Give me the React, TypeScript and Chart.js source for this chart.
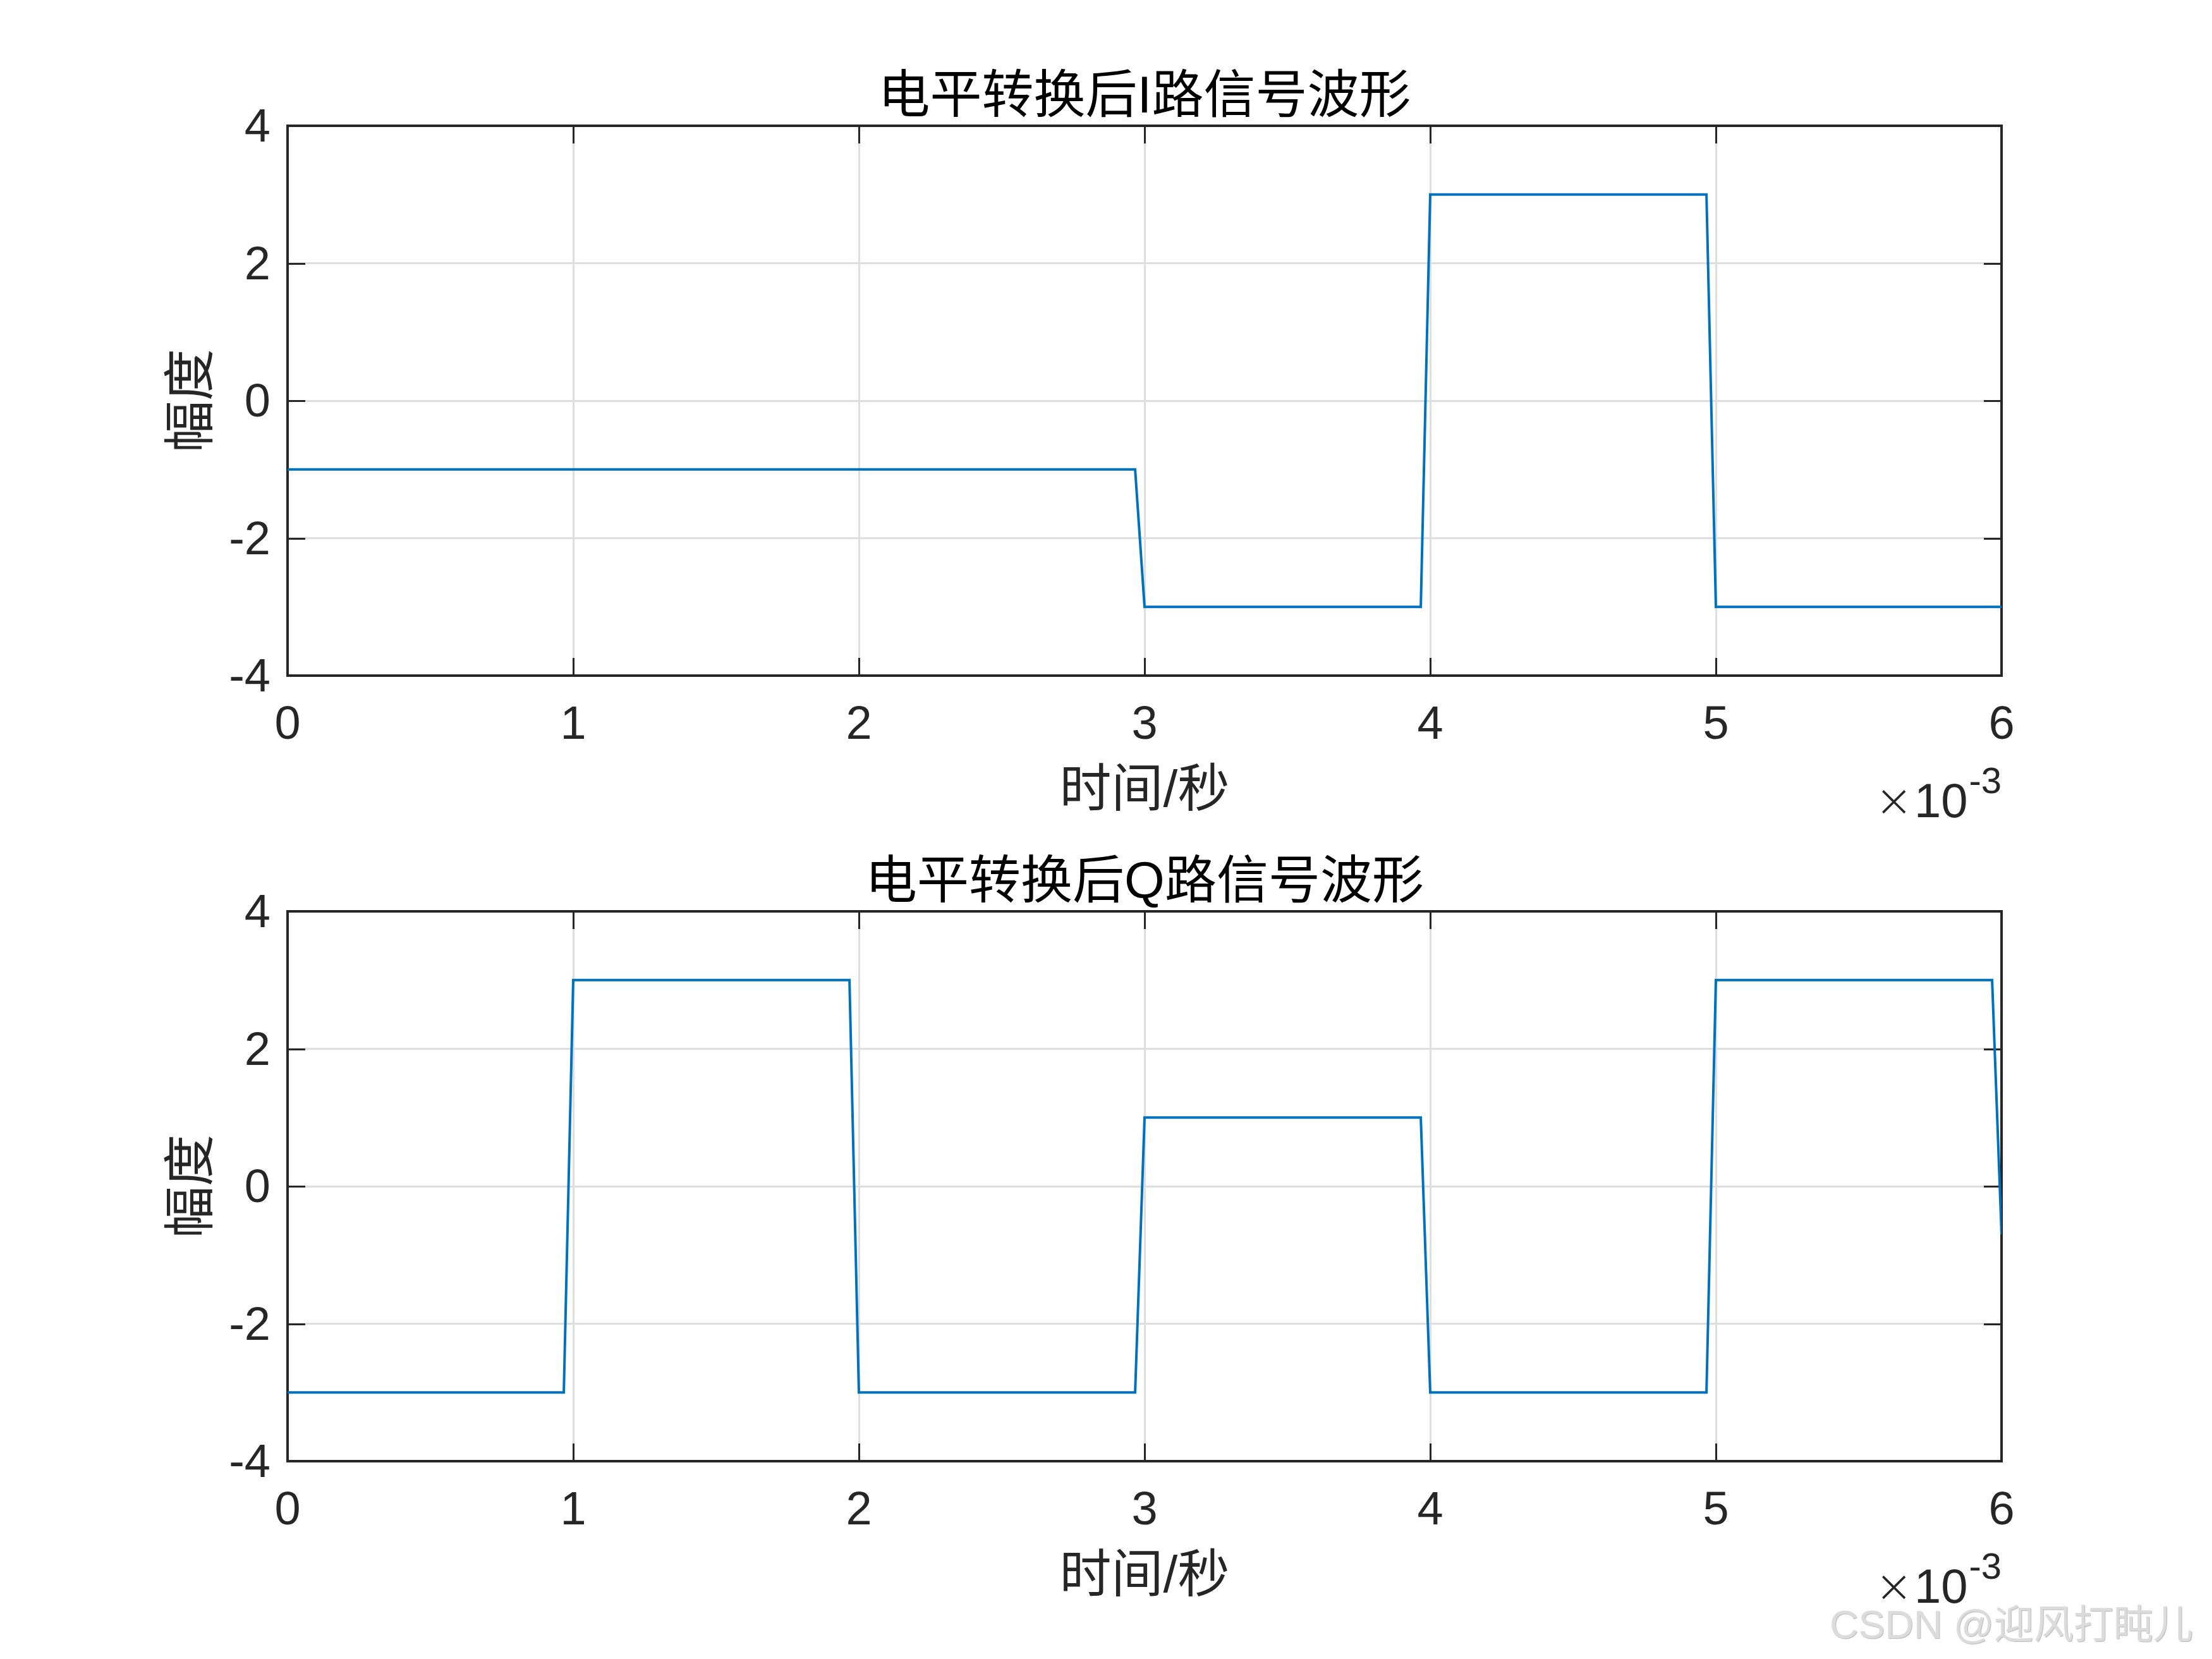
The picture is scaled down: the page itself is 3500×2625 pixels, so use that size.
import React, { useEffect, useRef } from "react";
import { Chart, registerables } from "chart.js";

Chart.register(...registerables);

// ---- data (time in units of 1e-3 s) ----
const iTimes = [0, 2.967, 3.0, 3.967, 4.0, 4.967, 5.0, 6.0];
const iValues = [-1, -1, -3, -3, 3, 3, -3, -3];

const qTimes = [0, 0.967, 1.0, 1.967, 2.0, 2.967, 3.0, 3.967, 4.0, 4.967, 5.0, 5.967, 6.0];
const qValues = [-3, -3, 3, 3, -3, -3, 1, 1, -3, -3, 3, 3, -0.7];

const xTickValues = [0, 1, 2, 3, 4, 5, 6];
const yTickValues = [-4, -2, 0, 2, 4];

const titleI = "电平转换后I路信号波形";
const titleQ = "电平转换后Q路信号波形";
const xLabel = "时间/秒";
const yLabel = "幅度";
const expTimes = "×";
const expBase = "10";
const expPower = "-3";
const watermark = "CSDN @迎风打盹儿";

// ---- styles ----
const LINE = "#0072BD";
const AXIS = "#262626";
const GRID = "#dedede";
const FONT = '"Liberation Sans", Arial, "Noto Sans CJK SC", sans-serif';
const CJK = '"Liberation Sans", "Noto Sans CJK SC", sans-serif';

const W = 3500;

function makeDecor(title: string) {
  return {
    id: "decor",
    beforeDatasetsDraw(chart: any) {
      const { ctx, chartArea: a, scales } = chart;
      ctx.save();
      ctx.strokeStyle = AXIS;
      ctx.lineWidth = 3;
      const TL = 28;
      for (const v of xTickValues) {
        const px = Math.round(scales.x.getPixelForValue(v)) + 0.5;
        ctx.beginPath();
        ctx.moveTo(px, a.bottom);
        ctx.lineTo(px, a.bottom - TL);
        ctx.moveTo(px, a.top);
        ctx.lineTo(px, a.top + TL);
        ctx.stroke();
      }
      for (const v of yTickValues) {
        const py = Math.round(scales.y.getPixelForValue(v)) + 0.5;
        ctx.beginPath();
        ctx.moveTo(a.left, py);
        ctx.lineTo(a.left + TL, py);
        ctx.moveTo(a.right, py);
        ctx.lineTo(a.right - TL, py);
        ctx.stroke();
      }
      ctx.lineWidth = 4;
      ctx.strokeRect(a.left, a.top, a.right - a.left, a.bottom - a.top);
      ctx.restore();
    },
    afterDraw(chart: any) {
      const { ctx, chartArea: a } = chart;
      const cx = (a.left + a.right) / 2;
      const cy = (a.top + a.bottom) / 2;
      ctx.save();
      ctx.fillStyle = "#000000";
      ctx.textAlign = "center";
      ctx.textBaseline = "middle";
      ctx.font = `82px ${CJK}`;
      ctx.fillText(title, cx, a.top - 44);
      ctx.fillStyle = AXIS;
      ctx.font = `82px ${CJK}`;
      ctx.fillText(xLabel, cx, a.bottom + 184);
      ctx.save();
      ctx.translate(a.left - 149, cy);
      ctx.rotate(-Math.PI / 2);
      ctx.fillText(yLabel, 0, 0);
      ctx.restore();
      // exponent label
      ctx.textAlign = "right";
      ctx.textBaseline = "alphabetic";
      ctx.font = `58px ${FONT}`;
      const pw = ctx.measureText(expPower).width;
      ctx.fillText(expPower, a.right, a.bottom + 186);
      ctx.font = `76px ${FONT}`;
      const bx = a.right - pw - 2;
      ctx.fillText(expBase, bx, a.bottom + 224);
      const bw = ctx.measureText(expBase).width;
      ctx.font = `300 72px "DejaVu Sans", ${FONT}`;
      ctx.fillText(expTimes, bx - bw - 2, a.bottom + 222);
      ctx.restore();
    },
  };
}

function PlotPanel(props: {
  times: number[];
  values: number[];
  title: string;
  top: number;
  height: number;
  areaTop: number;
  areaBottom: number;
}) {
  const ref = useRef<HTMLCanvasElement | null>(null);
  useEffect(() => {
    if (!ref.current) return;
    const data = props.times.map((t, i) => ({ x: t, y: props.values[i] }));
    const chart = new Chart(ref.current, {
      type: "line",
      data: {
        datasets: [
          {
            data,
            borderColor: LINE,
            borderWidth: 4,
            pointRadius: 0,
            fill: false,
            tension: 0,
          },
        ],
      },
      options: {
        animation: false,
        responsive: false,
        devicePixelRatio: 1,
        layout: {
          padding: { left: 0, right: W - 3167, top: props.areaTop, bottom: 0 },
        },
        plugins: {
          legend: { display: false },
          title: { display: false },
          tooltip: { enabled: false },
        },
        scales: {
          x: {
            type: "linear",
            min: 0,
            max: 6,
            afterFit: (s: any) => {
              s.height = props.height - props.areaBottom;
            },
            afterBuildTicks: (s: any) => {
              s.ticks = xTickValues.map((v) => ({ value: v }));
            },
            ticks: {
              padding: 35,
              color: AXIS,
              font: { family: FONT, size: 74 },
              maxRotation: 0,
              callback: (v: any) => String(v),
            },
            grid: { color: GRID, lineWidth: 3, drawTicks: false },
            border: { display: false },
          },
          y: {
            type: "linear",
            min: -4,
            max: 4,
            afterFit: (s: any) => {
              s.width = 455;
            },
            afterBuildTicks: (s: any) => {
              s.ticks = yTickValues.map((v) => ({ value: v }));
            },
            ticks: {
              padding: 27,
              labelOffset: 5,
              color: AXIS,
              font: { family: FONT, size: 74 },
              callback: (v: any) => String(v),
            },
            grid: { color: GRID, lineWidth: 3, drawTicks: false },
            border: { display: false },
          },
        },
      },
      plugins: [makeDecor(props.title)],
    } as any);
    return () => chart.destroy();
  }, []);
  return (
    <canvas
      ref={ref}
      width={W}
      height={props.height}
      style={{
        position: "absolute",
        left: 0,
        top: props.top,
        width: W,
        height: props.height,
        display: "block",
      }}
    />
  );
}

export default function App() {
  return (
    <div
      style={{
        position: "fixed",
        left: 0,
        top: 0,
        width: 3500,
        height: 2625,
        background: "#ffffff",
        overflow: "hidden",
      }}
    >
      <PlotPanel
        times={iTimes}
        values={iValues}
        title={titleI}
        top={0}
        height={1312}
        areaTop={199}
        areaBottom={1069}
      />
      <PlotPanel
        times={qTimes}
        values={qValues}
        title={titleQ}
        top={1312}
        height={1313}
        areaTop={130}
        areaBottom={1000}
      />
      <div
        style={{
          position: "absolute",
          left: 2895,
          top: 2530,
          fontFamily: CJK,
          fontSize: 63,
          lineHeight: "80px",
          color: "#dcdcdc",
          textShadow: "1px 1px 1px #b8b8b8",
          whiteSpace: "nowrap",
        }}
      >
        {watermark}
      </div>
    </div>
  );
}
